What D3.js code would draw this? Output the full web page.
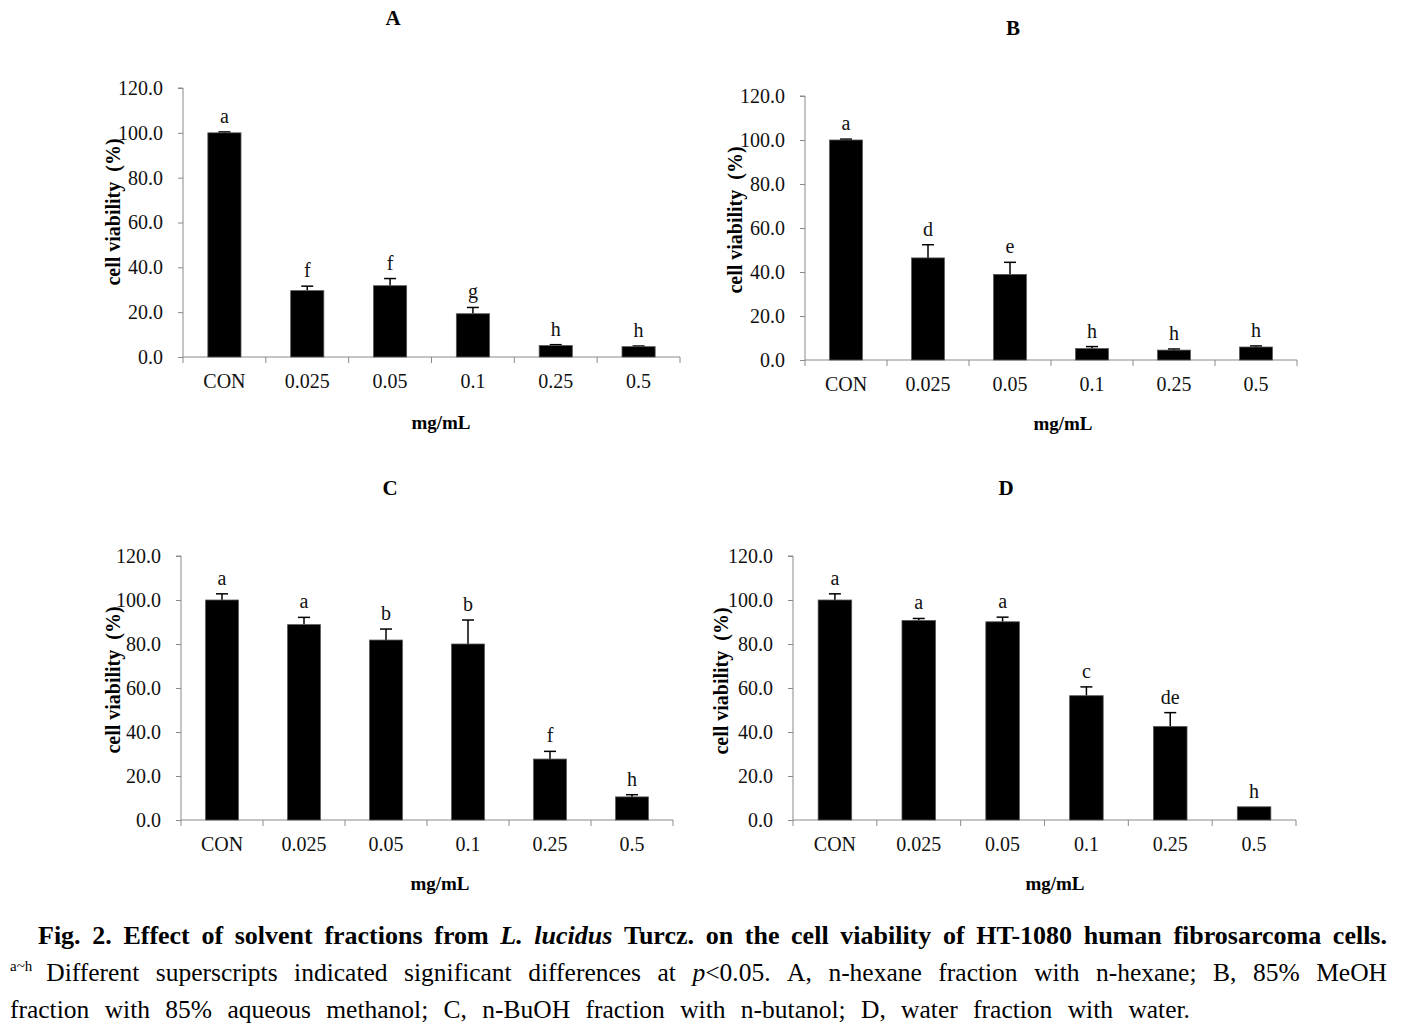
<!DOCTYPE html>
<html><head><meta charset="utf-8">
<script src="https://cdn.jsdelivr.net/npm/d3@7"></script>
<style>body{margin:0;background:#fff}svg{display:block}text{font-family:"Liberation Serif","Times New Roman",serif}</style>
</head><body>
<svg id="c" width="1406" height="1028"></svg>
<script>
const categories = ["CON","0.025","0.05","0.1","0.25","0.5"];
const yTicks = [0,20,40,60,80,100,120];
const panelNames = ["A","B","C","D"];
const valuesA = [100.0,29.6,31.8,19.3,5.1,4.6];
const errorsA = [0.4,2.0,3.2,2.8,0.4,0.3];
const lettersA = ["a","f","f","g","h","h"];
const valuesB = [100.0,46.4,38.9,5.2,4.5,5.9];
const errorsB = [0.4,6.0,5.5,0.9,0.5,0.5];
const lettersB = ["a","d","e","h","h","h"];
const valuesC = [100.0,88.8,81.8,80.0,27.7,10.5];
const errorsC = [2.8,3.3,5.0,10.9,3.5,1.0];
const lettersC = ["a","a","b","b","f","h"];
const valuesD = [100.0,90.7,90.1,56.5,42.5,6.0];
const errorsD = [2.8,0.9,2.1,4.0,6.3,0.0];
const lettersD = ["a","a","a","c","de","h"];

const svg = d3.select("#c");
const layouts = [
  {vals:valuesA, errs:errorsA, lets:lettersA, left:183, right:680, top:88, bottom:357, tx:393, ty:25, xl:441, xly:429, yl:113, yc:212},
  {vals:valuesB, errs:errorsB, lets:lettersB, left:805, right:1297, top:96, bottom:360, tx:1013, ty:35, xl:1063, xly:430, yl:735, yc:220},
  {vals:valuesC, errs:errorsC, lets:lettersC, left:181, right:673, top:556, bottom:820, tx:390, ty:495, xl:440, xly:890, yl:113, yc:680},
  {vals:valuesD, errs:errorsD, lets:lettersD, left:793, right:1296, top:556, bottom:820, tx:1006, ty:495, xl:1055, xly:890, yl:721, yc:681}
];

layouts.forEach((L,pi)=>{
  const xb = d3.scaleBand().domain(categories).range([L.left,L.right]).padding(0);
  const y = d3.scaleLinear().domain([0,120]).range([L.bottom,L.top]);
  const g = svg.append("g");

  const ya = g.append("g").attr("transform",`translate(${L.left},0)`)
    .call(d3.axisLeft(y).tickValues(yTicks).tickFormat(d3.format(".1f")).tickSize(5).tickPadding(15));
  ya.select(".domain").attr("stroke","#8a8a8a").attr("d",`M-5,${L.top}H0V${L.bottom}`);
  ya.selectAll(".tick line").attr("stroke","#8a8a8a");
  ya.selectAll(".tick text").attr("font-size",20).attr("fill","#111").attr("font-family","Liberation Serif");

  const xa = g.append("g").attr("transform",`translate(0,${L.bottom})`)
    .call(d3.axisBottom(xb).tickSize(0).tickPadding(17));
  xa.select(".domain").attr("stroke","#8a8a8a").attr("d",`M${L.left},0H${L.right}`);
  xa.selectAll(".tick text").attr("font-size",20).attr("fill","#111").attr("font-family","Liberation Serif");
  const bounds = categories.map(c=>xb(c)).concat([xb(categories[5])+xb.bandwidth()]);
  g.selectAll(".xt").data(bounds).join("line")
    .attr("x1",d=>d).attr("x2",d=>d).attr("y1",L.bottom).attr("y2",L.bottom+6)
    .attr("stroke","#8a8a8a");

  const data = categories.map((c,i)=>({c, v:L.vals[i], e:L.errs[i], l:L.lets[i]}));
  g.selectAll(".eb").data(data.filter(d=>d.e>0)).join("g").each(function(d){
    const cx = xb(d.c)+xb.bandwidth()/2;
    const s = d3.select(this);
    s.append("line").attr("x1",cx).attr("x2",cx).attr("y1",y(d.v)).attr("y2",y(d.v+d.e)).attr("stroke","#000").attr("stroke-width",1.5);
    s.append("line").attr("x1",cx-6).attr("x2",cx+6).attr("y1",y(d.v+d.e)).attr("y2",y(d.v+d.e)).attr("stroke","#000").attr("stroke-width",1.5);
  });
  const bw = xb.bandwidth()*0.4;
  g.selectAll(".bar").data(data).join("rect")
    .attr("x",d=>xb(d.c)+xb.bandwidth()/2-bw/2).attr("width",bw)
    .attr("y",d=>y(d.v)).attr("height",d=>y(0)-y(d.v))
    .attr("fill","#000").attr("stroke","#555").attr("stroke-width",0.8);
  g.selectAll(".lt").data(data).join("text")
    .attr("x",d=>xb(d.c)+xb.bandwidth()/2).attr("y",d=>y(d.v+d.e)-9)
    .attr("text-anchor","middle").attr("font-size",20).attr("fill","#111").text(d=>d.l);

  g.append("text").attr("x",L.tx).attr("y",L.ty).attr("text-anchor","middle")
    .attr("font-size",21).attr("font-weight","bold").text(panelNames[pi]);
  g.append("text").attr("x",L.xl).attr("y",L.xly).attr("text-anchor","middle")
    .attr("font-size",19).attr("font-weight","bold").text("mg/mL");
  g.append("text").attr("transform",`translate(${L.yl+7},${L.yc}) rotate(-90)`)
    .attr("text-anchor","middle").attr("font-size",20).attr("font-weight","bold")
    .attr("xml:space","preserve").style("white-space","pre").text("cell viability  (%)");
});

function placeWords(groups, x0, x1, yy, fs, gapFixed){
  const t = svg.append("text").attr("y",yy).attr("font-size",fs);
  const els = groups.map(parts=>parts.map(p=>{
    const s = t.append("tspan").text(p.t);
    if(p.b) s.attr("font-weight","bold");
    if(p.i) s.attr("font-style","italic");
    return s;
  }));
  const widths = els.map(arr=>d3.sum(arr,s=>s.node().getComputedTextLength()));
  const gap = gapFixed != null ? gapFixed : (x1-x0-d3.sum(widths))/(groups.length-1);
  let cx = x0;
  els.forEach((arr,i)=>{
    let sx = cx;
    arr.forEach(s=>{ s.attr("x",sx).attr("y",yy); sx += s.node().getComputedTextLength(); });
    cx += widths[i]+gap;
  });
}
const cap1 = "Fig. 2. Effect of solvent fractions from L. lucidus Turcz. on the cell viability of HT-1080 human fibrosarcoma cells.".split(" ")
  .map(w=>[{t:w,b:true,i:(w==="L."||w==="lucidus")}]);
placeWords(cap1, 38, 1387, 944, 26);

const sup = svg.append("text").attr("x",10).attr("y",971).attr("font-size",15).text("a~h");
const supW = sup.node().getComputedTextLength();
const cap2 = "Different superscripts indicated significant differences at".split(" ").map(w=>[{t:w}])
  .concat([[{t:"p",i:true},{t:"<0.05."}]])
  .concat("A, n-hexane fraction with n-hexane; B, 85% MeOH".split(" ").map(w=>[{t:w}]));
placeWords(cap2, 10+supW+14, 1387, 981, 25.5);
placeWords("fraction with 85% aqueous methanol; C, n-BuOH fraction with n-butanol; D, water fraction with water.".split(" ").map(w=>[{t:w}]), 10, 1190, 1018, 25.5);
</script>
</body></html>
